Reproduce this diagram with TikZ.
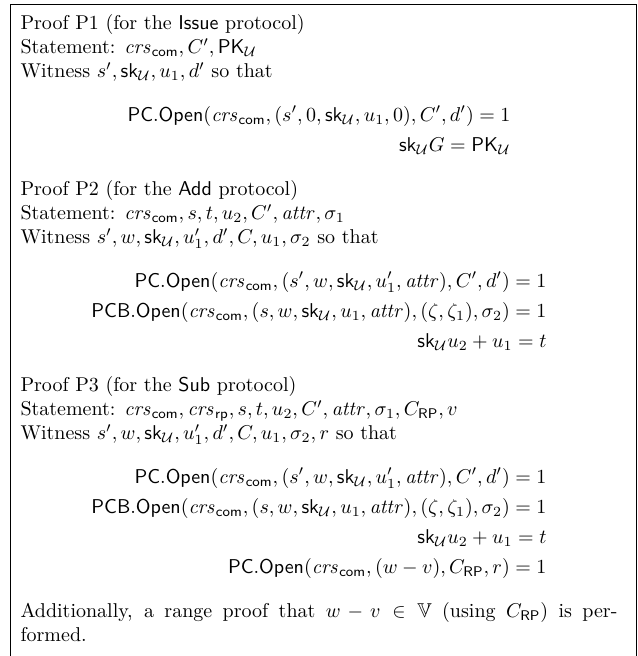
\documentclass[tikz,border=0pt]{standalone}
\usepackage{amsmath,amssymb}
\newcommand{\skU}{\mathsf{sk}_{\mathcal{U}}}
\newcommand{\PKU}{\mathsf{PK}_{\mathcal{U}}}
\newcommand{\crscom}{\mathit{crs}_{\mathsf{com}}}
\newcommand{\crsrp}{\mathit{crs}_{\mathsf{rp}}}
\newcommand{\attr}{\mathit{attr}}
\begin{document}
\begin{tikzpicture}[x=1pt,y=1pt]
\tikzset{framebox/.style={line width=0.5pt,draw=black},
         textblock/.style={anchor=base west,inner sep=0pt,outer sep=0pt}}
\useasboundingbox (0,0) rectangle (318.5,-328);
\draw[framebox] (5.35,-340) -- (5.35,-2.5) -- (318.1,-2.5) -- (318.1,-340);
\node[textblock] (content) at (10.25,-15) {%
\begin{minipage}[t]{298.5pt}
\setlength{\parindent}{0pt}%
\setlength{\parskip}{0pt}%
Proof P1 (for the \textsf{Issue} protocol)\\
Statement: $\crscom, C', \PKU$\\
Witness $s', \skU, u_1, d'$ so that
\begin{align*}
\mathsf{PC.Open}(\crscom, (s', 0, \skU, u_1, 0), C', d') = 1\\
\skU G = \PKU
\end{align*}
Proof P2 (for the \textsf{Add} protocol)\\
Statement: $\crscom, s, t, u_2, C', \attr, \sigma_1$\\
Witness $s', w, \skU, u_1', d', C, u_1, \sigma_2$ so that
\begin{align*}
\mathsf{PC.Open}(\crscom, (s', w, \skU, u_1', \attr), C', d') = 1\\
\mathsf{PCB.Open}(\crscom, (s, w, \skU, u_1, \attr), (\zeta, \zeta_1), \sigma_2) = 1\\
\skU u_2 + u_1 = t
\end{align*}
Proof P3 (for the \textsf{Sub} protocol)\\
Statement: $\crscom, \crsrp, s, t, u_2, C', \attr, \sigma_1, C_{\mathsf{RP}}, v$\\
Witness $s', w, \skU, u_1', d', C, u_1, \sigma_2, r$ so that
\begin{align*}
\mathsf{PC.Open}(\crscom, (s', w, \skU, u_1', \attr), C', d') = 1\\
\mathsf{PCB.Open}(\crscom, (s, w, \skU, u_1, \attr), (\zeta, \zeta_1), \sigma_2) = 1\\
\skU u_2 + u_1 = t\\
\mathsf{PC.Open}(\crscom, (w - v), C_{\mathsf{RP}}, r) = 1
\end{align*}
Additionally, a range proof that $w - v \in \mathbb{V}$ (using $C_{\mathsf{RP}}$) is per-\linebreak formed.
\end{minipage}};
\end{tikzpicture}
\end{document}
